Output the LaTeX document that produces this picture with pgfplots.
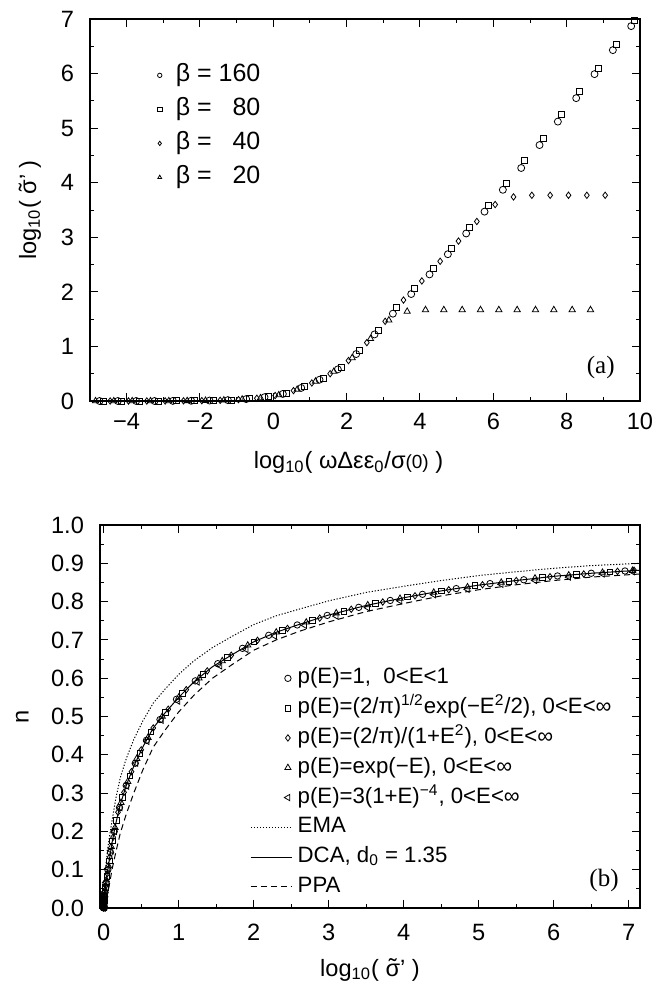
\documentclass[border=0pt]{standalone}
\usepackage{fontspec}
\setmainfont{Liberation Sans}
\newfontfamily\timesfont{Liberation Serif}
\usepackage{pgfplots}
\pgfplotsset{compat=1.18}
\newcommand{\st}{\ooalign{σ\cr\hidewidth\raisebox{0.02em}{˜}\hidewidth\cr}}
\begin{document}
\begin{tikzpicture}
\pgfplotsset{
  every axis/.append style={
    scale only axis,
    axis line style={line width=0.6pt},
    every tick/.style={line width=0.5pt, black},
    major tick length=4pt, minor tick length=2.2pt,
    tick align=inside,
    ticklabel style={font=\fontsize{11.8}{13}\selectfont},
    label style={font=\fontsize{11.8}{13}\selectfont},
    clip=false,
  },
  lineleg/.style={legend image code/.code={\path[draw=none,fill=none] (-20.5pt,-2pt) rectangle (1pt,2pt); \draw[##1] (-20.5pt,0pt) -- (0pt,0pt);}},
}
\path[use as bounding box] (-50pt,-39pt) rectangle (278.5pt,454pt);
% ---------------- panel (a) ----------------
\begin{axis}[at={(-5pt,253.5pt)}, anchor=south west, width=275pt, height=191pt,
  xmin=-5, xmax=10, ymin=0, ymax=7,
  xtick={-4,-2,0,2,4,6,8,10}, xticklabels={−4,−2,0,2,4,6,8,10},
  ytick={0,1,2,3,4,5,6,7}, yticklabels={0,1,2,3,4,5,6,7},
  minor x tick num=1, minor y tick num=1,
  xticklabel style={yshift=-2.5pt}, yticklabel style={xshift=-4.5pt},
  xlabel={log\textsubscript{10}( ωΔεε\textsubscript{0}/σ{\fontsize{9.5}{10}\selectfont(0)} )},
  ylabel={log\textsubscript{10}( \st’ )},
  xlabel style={at={(axis description cs:0.47,-0.162)}, anchor=center},
  ylabel style={at={(axis description cs:-0.109,0.5)}, anchor=center},
  legend style={draw=none, fill=none, at={(axis description cs:0.117,0.898)}, anchor=north west,
    font=\fontsize{12.5}{14}\selectfont, inner sep=0pt,
    nodes={inner sep=2.5pt, text height=9pt, text depth=3pt}},
  legend cell align=left,
  legend image code/.code={\path[draw=none,fill=none] (-2.5pt,-2pt) rectangle (5.5pt,2pt); \draw[#1, mark size=1.1pt] plot coordinates {(0pt,0pt)};},
]
\addplot[only marks, mark=o, mark size=1.75pt, mark options={line width=0.4pt}] coordinates {
(-4.74,0)(-4.24,0)(-3.74,0)(-3.24,0)(-2.74,0.002)(-2.24,0.004)(-1.74,0.008)(-1.24,0.016)(-0.74,0.035)(-0.24,0.07)(0.26,0.13)(0.76,0.24)(1.26,0.39)(1.76,0.58)(2.26,0.86)(2.76,1.22)(3.26,1.60)(3.76,1.96)(4.26,2.32)(4.76,2.69)(5.26,3.07)(5.76,3.47)(6.26,3.87)(6.76,4.27)(7.26,4.69)(7.76,5.12)(8.26,5.55)(8.76,5.99)(9.26,6.43)(9.76,6.87)};
\addlegendentry{β = 160}
\addplot[only marks, mark=square, mark size=1.5pt, mark options={line width=0.4pt}] coordinates {
(-4.64,0)(-4.14,0)(-3.64,0)(-3.14,0.001)(-2.64,0.002)(-2.14,0.004)(-1.64,0.009)(-1.14,0.018)(-0.64,0.04)(-0.14,0.08)(0.36,0.145)(0.86,0.27)(1.36,0.42)(1.86,0.62)(2.36,0.93)(2.86,1.30)(3.36,1.71)(3.86,2.07)(4.36,2.43)(4.86,2.80)(5.36,3.19)(5.86,3.59)(6.36,3.99)(6.86,4.40)(7.36,4.82)(7.86,5.25)(8.36,5.67)(8.86,6.10)(9.36,6.54)(9.86,6.98)};
\addlegendentry{β = \phantom{1}80}
\addplot[only marks, mark=diamond, mark size=1.6pt, mark options={line width=0.4pt}] coordinates {
(-4.45,0)(-3.95,0)(-3.45,0)(-2.95,0.001)(-2.45,0.003)(-1.95,0.006)(-1.45,0.012)(-0.95,0.025)(-0.45,0.05)(0.05,0.10)(0.55,0.19)(1.05,0.33)(1.55,0.50)(2.05,0.74)(2.55,1.07)(3.05,1.46)(3.55,1.85)(4.05,2.20)(4.55,2.56)(5.05,2.93)(5.55,3.29)(6.05,3.60)(6.55,3.74)(7.05,3.77)(7.55,3.77)(8.05,3.77)(8.55,3.77)(9.05,3.77)};
\addlegendentry{β = \phantom{1}40}
\addplot[only marks, mark=triangle, mark size=1.8pt, mark options={line width=0.4pt}] coordinates {
(-4.85,0)(-4.35,0)(-3.85,0)(-3.35,0)(-2.85,0.001)(-2.35,0.003)(-1.85,0.007)(-1.35,0.014)(-0.85,0.03)(-0.35,0.055)(0.15,0.11)(0.65,0.21)(1.15,0.36)(1.65,0.54)(2.15,0.79)(2.65,1.14)(3.15,1.48)(3.65,1.64)(4.15,1.67)(4.65,1.67)(5.15,1.67)(5.65,1.67)(6.15,1.67)(6.65,1.67)(7.15,1.67)(7.65,1.67)(8.15,1.67)(8.65,1.67)};
\addlegendentry{β = \phantom{1}20}
\node[font=\timesfont\fontsize{12.5}{14}\selectfont] at (axis cs:8.93,0.61) {(a)};
\end{axis}
% ---------------- panel (b) ----------------
\begin{axis}[at={(0pt,0pt)}, anchor=south west, width=270pt, height=191.5pt,
  xmin=-0.05, xmax=7.15, ymin=0, ymax=1,
  xtick={0,1,2,3,4,5,6,7}, xticklabels={0,1,2,3,4,5,6,7},
  ytick={0,0.1,0.2,0.3,0.4,0.5,0.6,0.7,0.8,0.9,1},
  yticklabels={0.0,0.1,0.2,0.3,0.4,0.5,0.6,0.7,0.8,0.9,1.0},
  minor x tick num=1, minor y tick num=1,
  xticklabel style={yshift=-4.5pt}, yticklabel style={xshift=-4.5pt},
  xlabel={log\textsubscript{10}( \st’ )},
  ylabel={n},
  xlabel style={at={(axis description cs:0.5,-0.162)}, anchor=center},
  ylabel style={at={(axis description cs:-0.144,0.5)}, anchor=center},
  legend style={draw=none, fill=none, at={(axis description cs:0.2778,0.638)}, anchor=north west,
    font=\fontsize{11.1}{12}\selectfont, inner sep=0pt, row sep=0.6pt,
    nodes={inner sep=1.9pt, text height=8pt, text depth=2.5pt}},
  legend cell align=left,
  legend image code/.code={\path[draw=none,fill=none] (-20.5pt,-2pt) rectangle (1pt,2pt); \draw[#1] plot coordinates {(-2pt,0pt)};},
]
\addplot[only marks, mark=o, mark size=1.6pt, mark options={line width=0.4pt}] coordinates {
(0,0)(0,0.003)(0.001,0.004)(0.002,0.006)(0.004,0.012)(0.006,0.018)(0.01,0.028)(0.015,0.040)(0.022,0.052)(0.03,0.065)(0.055,0.10)(0.09,0.145)(0.14,0.20)(0.21,0.262)(0.30,0.32)(0.42,0.378)(0.57,0.438)(0.75,0.492)(0.97,0.545)(1.22,0.593)(1.52,0.638)(1.85,0.678)(2.2,0.712)(2.58,0.739)(2.98,0.764)(3.4,0.785)(3.82,0.803)(4.25,0.819)(4.7,0.834)(5.15,0.847)(5.6,0.857)(6.05,0.867)(6.5,0.874)(6.95,0.880)};
\addlegendentry{p(E)=1, \ 0<E<1}
\addplot[only marks, mark=square, mark size=1.4pt, mark options={line width=0.4pt}] coordinates {
(0,0)(0,0.002)(0.001,0.004)(0.002,0.007)(0.004,0.012)(0.007,0.02)(0.01,0.03)(0.022,0.054)(0.042,0.083)(0.072,0.123)(0.115,0.175)(0.17,0.228)(0.25,0.289)(0.35,0.345)(0.48,0.403)(0.63,0.46)(0.82,0.51)(1.05,0.56)(1.32,0.61)(1.65,0.654)(2.0,0.695)(2.38,0.725)(2.78,0.751)(3.2,0.775)(3.62,0.795)(4.05,0.812)(4.5,0.828)(4.95,0.842)(5.4,0.853)(5.85,0.863)(6.3,0.871)(6.75,0.878)};
\addlegendentry{p(E)=(2/π)\textsuperscript{1/2}exp(−E\textsuperscript{2}/2), 0<E<∞}
\addplot[only marks, mark=diamond, mark size=1.6pt, mark options={line width=0.4pt}] coordinates {
(0,0)(0,0.001)(0.001,0.003)(0.003,0.009)(0.005,0.015)(0.008,0.024)(0.012,0.034)(0.025,0.058)(0.048,0.09)(0.08,0.133)(0.125,0.185)(0.19,0.25)(0.27,0.302)(0.37,0.356)(0.5,0.413)(0.66,0.47)(0.86,0.519)(1.1,0.57)(1.38,0.619)(1.7,0.66)(2.05,0.699)(2.45,0.73)(2.88,0.757)(3.3,0.78)(3.72,0.799)(4.15,0.815)(4.6,0.831)(5.05,0.844)(5.5,0.855)(5.95,0.865)(6.4,0.872)(6.85,0.879)(7.07,0.882)};
\addlegendentry{p(E)=(2/π)/(1+E\textsuperscript{2}), 0<E<∞}
\addplot[only marks, mark=triangle, mark size=1.8pt, mark options={line width=0.4pt}] coordinates {
(0,0)(0,0.002)(0.001,0.004)(0.003,0.009)(0.005,0.015)(0.008,0.024)(0.012,0.035)(0.018,0.046)(0.035,0.073)(0.062,0.11)(0.1,0.16)(0.15,0.21)(0.23,0.275)(0.32,0.33)(0.44,0.39)(0.59,0.445)(0.78,0.50)(1.0,0.55)(1.27,0.60)(1.58,0.645)(1.92,0.686)(2.3,0.72)(2.7,0.746)(3.1,0.77)(3.52,0.791)(3.95,0.808)(4.4,0.824)(4.85,0.838)(5.3,0.85)(5.75,0.861)(6.2,0.869)(6.65,0.876)(7.05,0.881)};
\addlegendentry{p(E)=exp(−E), 0<E<∞}
\addplot[only marks, mark=triangle, mark size=1.8pt, mark options={line width=0.4pt, rotate=90}] coordinates {
(0,0)(0,0.001)(0.001,0.003)(0.002,0.005)(0.004,0.011)(0.007,0.02)(0.011,0.03)(0.016,0.042)(0.032,0.067)(0.058,0.103)(0.095,0.15)(0.145,0.2)(0.22,0.262)(0.31,0.318)(0.43,0.378)(0.58,0.435)(0.77,0.49)(0.99,0.54)(1.25,0.59)(1.55,0.632)(1.9,0.675)(2.28,0.71)(2.68,0.738)(3.1,0.762)(3.52,0.784)(3.95,0.802)(4.4,0.818)(4.85,0.832)(5.3,0.845)(5.75,0.855)(6.2,0.864)(6.65,0.872)(7.05,0.878)};
\addlegendentry{p(E)=3(1+E)\textsuperscript{−4}, 0<E<∞}
\addplot[no marks, line width=0.5pt, dash pattern=on 0.6pt off 0.9pt, lineleg] coordinates {
(0,0)(0.005,0.04)(0.015,0.08)(0.03,0.115)(0.06,0.165)(0.1,0.215)(0.16,0.285)(0.22,0.34)(0.3,0.39)(0.4,0.44)(0.52,0.488)(0.66,0.535)(0.82,0.572)(1.0,0.61)(1.2,0.645)(1.45,0.68)(1.7,0.708)(2.0,0.74)(2.3,0.763)(2.6,0.78)(3.0,0.802)(3.5,0.824)(4.0,0.84)(4.5,0.855)(5.0,0.868)(5.5,0.878)(6.0,0.887)(6.5,0.894)(7.15,0.90)};
\addlegendentry{EMA}
\addplot[no marks, line width=0.5pt, lineleg] coordinates {
(0,0)(0.01,0.03)(0.02,0.05)(0.04,0.08)(0.07,0.12)(0.11,0.17)(0.16,0.22)(0.22,0.27)(0.30,0.32)(0.40,0.37)(0.52,0.42)(0.66,0.47)(0.82,0.51)(1.0,0.55)(1.2,0.59)(1.45,0.63)(1.7,0.66)(2.0,0.695)(2.3,0.72)(2.6,0.74)(3.0,0.765)(3.5,0.79)(4.0,0.81)(4.5,0.828)(5.0,0.843)(5.5,0.855)(6.0,0.866)(6.5,0.874)(7.15,0.882)};
\addlegendentry{DCA, d\textsubscript{0} = 1.35}
\addplot[no marks, line width=0.5pt, dash pattern=on 3pt off 2pt, lineleg] coordinates {
(0,0)(0.01,0.01)(0.04,0.03)(0.07,0.055)(0.11,0.10)(0.16,0.145)(0.22,0.195)(0.30,0.245)(0.40,0.30)(0.52,0.36)(0.66,0.42)(0.82,0.465)(1.0,0.512)(1.2,0.555)(1.45,0.60)(1.7,0.634)(2.0,0.673)(2.3,0.70)(2.6,0.722)(3.0,0.747)(3.5,0.774)(4.0,0.795)(4.5,0.815)(5.0,0.831)(5.5,0.844)(6.0,0.855)(6.5,0.864)(7.15,0.872)};
\addlegendentry{PPA}
\node[font=\timesfont\fontsize{12.5}{14}\selectfont] at (axis cs:6.67,0.072) {(b)};
\end{axis}
\end{tikzpicture}
\end{document}
